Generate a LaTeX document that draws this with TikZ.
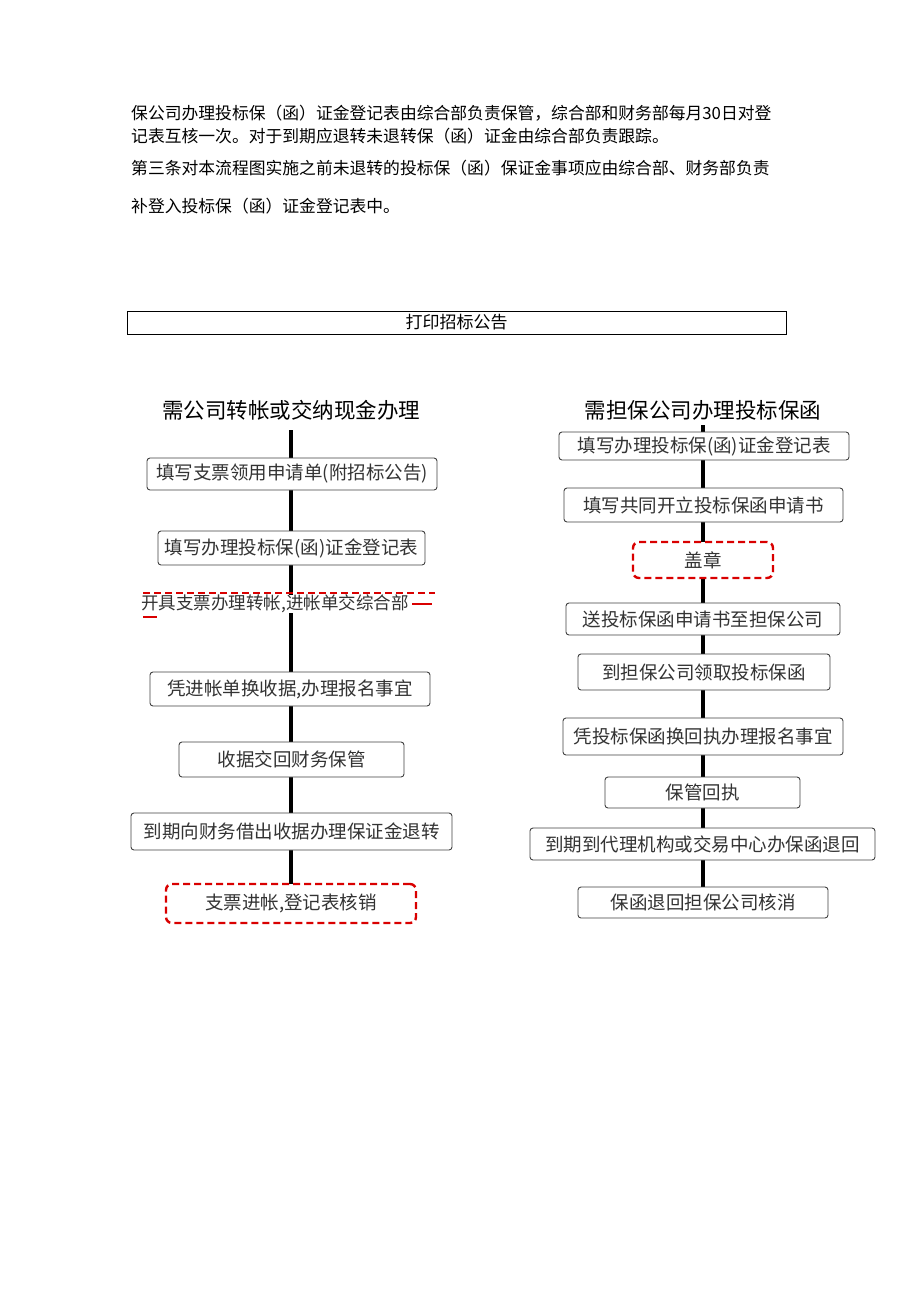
\documentclass[tikz,border=0pt]{standalone}
\usepackage{fontspec}
\setmainfont{Noto Sans CJK SC}
\begin{document}
\begin{tikzpicture}[x=1pt,y=-1pt,
  bx/.style={draw=black!75,rounded corners=3pt,line width=0.9pt,inner sep=0pt,font=\fontsize{18.5}{20}\selectfont,text=black!80},
  rbx/.style={draw=red!85!black,dashed,dash pattern=on 7pt off 4pt,rounded corners=6pt,line width=2.4pt,inner sep=0pt,font=\fontsize{18.5}{20}\selectfont,text=black!80},
  flow/.style={line width=3.2pt,black},
  para/.style={anchor=west,inner sep=0pt,font=\fontsize{16.8}{18}\selectfont}]
\useasboundingbox (0,0) rectangle (920,1301);
\node[para] (p1) at (131,113) {保公司办理投标保（函）证金登记表由综合部负责保管，综合部和财务部每月30日对登};
\node[para] (p2) at (131,136) {记表互核一次。对于到期应退转未退转保（函）证金由综合部负责跟踪。};
\node[para] (p3) at (131,168) {第三条对本流程图实施之前未退转的投标保（函）保证金事项应由综合部、财务部负责};
\node[para] (p4) at (131,206) {补登入投标保（函）证金登记表中。};
\node[draw,line width=0.6pt,minimum width=659pt,minimum height=23pt,inner sep=0pt,font=\fontsize{17}{18}\selectfont] (top) at (456.5,322.5) {打印招标公告};
% left
\node[font=\fontsize{21.5}{23}\selectfont,inner sep=0pt] (lt) at (291,410) {需公司转帐或交纳现金办理};
\coordinate (lstart) at (291,430);
\coordinate (lend) at (291,884);
\draw[flow] (lstart) -- (lend);
\node[bx,fill=white,minimum width=290pt,minimum height=32pt] (l1) at (292,474) {填写支票领用申请单(附招标公告)};
\node[bx,fill=white,minimum width=267pt,minimum height=34pt] (l2) at (291.5,548) {填写办理投标保(函)证金登记表};
\coordinate (rd1) at (143,593);
\coordinate (rd2) at (435,593);
\draw[red!85!black,line width=2.4pt,dash pattern=on 7pt off 4pt] (rd1) -- (rd2);
\node[anchor=west,inner sep=0pt,fill=white,font=\fontsize{17.5}{19}\selectfont,text=black!80] (l3) at (141,604) {开具支票办理转帐,进帐单交综合部};
\coordinate (rs1) at (143,617);
\coordinate (rs2) at (157,617);
\draw[red!85!black,line width=1.5pt] (rs1) -- (rs2);
\coordinate (rs3) at (412,604);
\coordinate (rs4) at (432,604);
\draw[red!85!black,line width=1.5pt] (rs3) -- (rs4);
\node[bx,fill=white,minimum width=280pt,minimum height=34pt] (l4) at (290,689) {凭进帐单换收据,办理报名事宜};
\node[bx,fill=white,minimum width=225pt,minimum height=35pt] (l5) at (291.5,759.5) {收据交回财务保管};
\node[bx,fill=white,minimum width=321pt,minimum height=37pt] (l6) at (291.5,831.5) {到期向财务借出收据办理保证金退转};
\node[rbx,fill=white,minimum width=250pt,minimum height=39pt] (l7) at (291,903.5) {支票进帐,登记表核销};
% right
\node[font=\fontsize{21.5}{23}\selectfont,inner sep=0pt] (rt) at (703,410) {需担保公司办理投标保函};
\coordinate (rstart) at (703,425);
\coordinate (rend) at (703,887);
\draw[flow] (rstart) -- (rend);
\node[bx,fill=white,minimum width=290pt,minimum height=28pt] (r1) at (704,446) {填写办理投标保(函)证金登记表};
\node[bx,fill=white,minimum width=279pt,minimum height=34pt] (r2) at (703.5,505) {填写共同开立投标保函申请书};
\node[rbx,fill=white,minimum width=140pt,minimum height=36pt] (r3) at (703,560) {盖章};
\node[bx,fill=white,minimum width=274pt,minimum height=32pt] (r4) at (703,619) {送投标保函申请书至担保公司};
\node[bx,fill=white,minimum width=252pt,minimum height=36pt] (r5) at (704,672) {到担保公司领取投标保函};
\node[bx,fill=white,minimum width=280pt,minimum height=37pt] (r6) at (703,736.5) {凭投标保函换回执办理报名事宜};
\node[bx,fill=white,minimum width=195pt,minimum height=31pt] (r7) at (702.5,792.5) {保管回执};
\node[bx,fill=white,minimum width=345pt,minimum height=32pt] (r8) at (702.5,844) {到期到代理机构或交易中心办保函退回};
\node[bx,fill=white,minimum width=250pt,minimum height=31pt] (r9) at (703,902.5) {保函退回担保公司核消};
\end{tikzpicture}
\end{document}
